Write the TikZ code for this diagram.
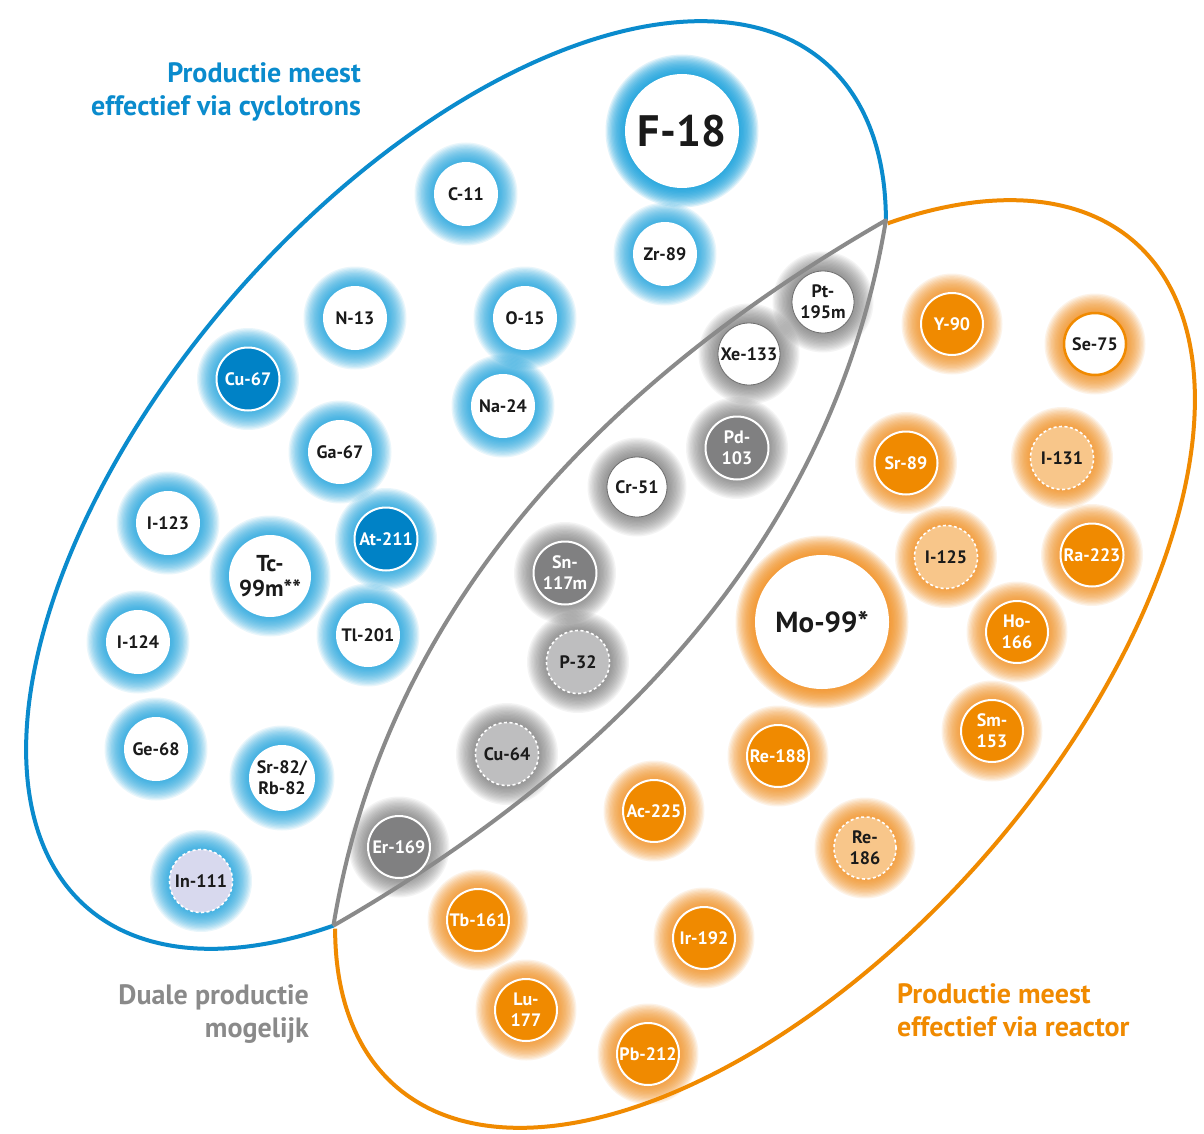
\documentclass[tikz,border=0pt]{standalone}
\usepackage{fontspec}
\setmainfont{PT Sans}
\usetikzlibrary{calc}
\definecolor{cycblue}{HTML}{0A8BCD}
\definecolor{glowblue}{HTML}{17A2DE}
\definecolor{fillblue}{HTML}{0082C6}
\definecolor{reacor}{HTML}{F08A00}
\definecolor{gloworange}{HTML}{F39020}
\definecolor{lightor}{HTML}{F8C68A}
\definecolor{dualgray}{HTML}{8A8A8A}
\definecolor{fillgray}{HTML}{808081}
\definecolor{lightgraytwo}{HTML}{BEBEBF}
\definecolor{glowgray}{HTML}{666666}
\definecolor{lavender}{HTML}{D8D9EE}
\definecolor{txt}{HTML}{1A1A1A}
\pgfdeclarelayer{bg}
\pgfdeclarelayer{glow}
\pgfsetlayers{bg,glow,main}
\tikzset{
  iso/.style={circle, inner sep=0pt, align=center, font=\bfseries\fontsize{18}{21}\selectfont, text=txt},
  wb/.style={iso, fill=white},
  fb/.style={iso, fill=fillblue, draw=white, line width=2pt, text=white},
  dl/.style={iso, fill=lavender, draw=white, line width=1.6pt, dash pattern=on 3pt off 2.5pt},
  wg/.style={iso, fill=white, draw=dualgray!80!black, line width=0.8pt},
  fg/.style={iso, fill=fillgray, draw=white, line width=2pt, text=white},
  dg/.style={iso, fill=lightgraytwo, draw=white, line width=1.6pt, dash pattern=on 3pt off 2.5pt},
  fo/.style={iso, fill=reacor, draw=white, line width=2pt, text=white},
  do/.style={iso, fill=lightor, draw=white, line width=1.6pt, dash pattern=on 3pt off 2.5pt},
  wo/.style={iso, fill=white, draw=reacor, line width=2.5pt},
  gb/.style={glowblue, opacity=0.095},
  go/.style={gloworange, opacity=0.10},
  gg/.style={glowgray, opacity=0.065},
  outline/.style={line width=4pt, line join=round},
  title/.style={font=\bfseries\fontsize{28}{33}\selectfont, inner sep=0pt},
}
\newcommand\isotope[7]{%
  \begin{pgfonlayer}{glow}
    \foreach \k in {1,...,15}{\fill[#6] (#2,#3) circle ({#4+1.3*\k});}
  \end{pgfonlayer}
  \node[#5, minimum size=2*#4pt] (#1) at (#2,#3) {#7};
}
\begin{document}
\begin{tikzpicture}[x=1pt, y=-1pt]
\useasboundingbox (0,0) rectangle (1204,1134);
\begin{pgfonlayer}{bg}
  \fill[white] (0,0) rectangle (1204,1134);
\end{pgfonlayer}

% intersection points of the three outlines
\coordinate (P1) at ({456+561*cos(-30.7)*0.6587-292*sin(-30.7)*0.7524},{485-561*cos(-30.7)*0.7524-292*sin(-30.7)*0.6587});
\coordinate (P2) at ({456+561*cos(222.7)*0.6587-292*sin(222.7)*0.7524},{485-561*cos(222.7)*0.7524-292*sin(222.7)*0.6587});
\coordinate (Q) at (404,497);
\coordinate (Qb) at ($(P1)+(P2)-(Q)$);

% cyclotron outline
\draw[outline, cycblue] plot[domain=-30.7:222.7, samples=160, smooth]
  ({456+561*cos(\x)*0.6587-292*sin(\x)*0.7524},{485-561*cos(\x)*0.7524-292*sin(\x)*0.6587});
% reactor outline
\draw[outline, reacor] plot[domain=-210.7:42.7, samples=160, smooth]
  ({765+561*cos(\x)*0.6587-292*sin(\x)*0.7524},{664-561*cos(\x)*0.7524-292*sin(\x)*0.6587});
% dual outline
\draw[outline, dualgray] (P2) .. controls ($(P2)!2/3!(Q)$) and ($(P1)!2/3!(Q)$) .. (P1)
  .. controls ($(P1)!2/3!(Qb)$) and ($(P2)!2/3!(Qb)$) .. (P2);

% cyclotron isotopes
\isotope{F18}{682}{131}{57}{wb, font=\bfseries\fontsize{44}{48}\selectfont}{glowblue,opacity=0.13}{F-18}
\isotope{C11}{466}{194}{32}{wb}{gb}{C-11}
\isotope{Zr89}{665}{254}{32}{wb}{gb}{Zr-89}
\isotope{N13}{355}{318}{32}{wb}{gb}{N-13}
\isotope{O15}{525}{318}{32}{wb}{gb}{O-15}
\isotope{Cu67}{248}{379}{31.5}{fb}{gb}{Cu-67}
\isotope{Na24}{503}{406}{32}{wb}{gb}{Na-24}
\isotope{Ga67}{340}{452}{32}{wb}{gb}{Ga-67}
\isotope{I123}{168}{523}{32}{wb}{gb}{I-123}
\isotope{Tc99m}{270}{576}{41}{wb, font=\bfseries\fontsize{23}{25}\selectfont}{gb}{Tc-\\99m**}
\isotope{At211}{386}{539}{31.5}{fb}{gb}{At-211}
\isotope{I124}{138}{642}{32}{wb}{gb}{I-124}
\isotope{Tl201}{368}{635}{32}{wb}{gb}{Tl-201}
\isotope{Ge68}{156}{749}{32}{wb}{gb}{Ge-68}
\isotope{Sr82}{282}{778}{33}{wb}{gb}{Sr-82/\\Rb-82}
\isotope{In111}{201}{881}{31.5}{dl}{gb}{In-111}

% dual isotopes
\isotope{Pt195m}{823}{302}{31}{wg}{gg}{Pt-\\195m}
\isotope{Xe133}{749}{354}{31}{wg}{gg}{Xe-133}
\isotope{Pd103}{737}{448}{31.5}{fg}{gg}{Pd-\\103}
\isotope{Cr51}{637}{487}{30}{wg}{gg}{Cr-51}
\isotope{Sn117m}{565}{573}{31.5}{fg}{gg}{Sn-\\117m}
\isotope{P32}{578}{662}{31.5}{dg}{gg}{P-32}
\isotope{Cu64}{507}{754}{31.5}{dg}{gg}{Cu-64}
\isotope{Er169}{399}{847}{31}{fg}{gg}{Er-169}

% reactor isotopes
\isotope{Y90}{952}{324}{31}{fo}{go}{Y-90}
\isotope{Se75}{1095}{344}{31}{wo}{go}{Se-75}
\isotope{Sr89}{906}{463}{31.5}{fo}{go}{Sr-89}
\isotope{I131}{1062}{458}{31.5}{do}{go}{I-131}
\isotope{I125}{946}{557}{31.5}{do}{go}{I-125}
\isotope{Ra223}{1092}{555}{31.5}{fo}{go}{Ra-223}
\isotope{Mo99}{822}{622}{67}{wb, font=\bfseries\fontsize{29}{32}\selectfont}{gloworange,opacity=0.12}{Mo-99*}
\isotope{Ho166}{1017}{632}{31}{fo}{go}{Ho-\\166}
\isotope{Sm153}{992}{731}{31}{fo}{go}{Sm-\\153}
\isotope{Re188}{778}{756}{31}{fo}{go}{Re-188}
\isotope{Ac225}{654}{811}{31}{fo}{go}{Ac-225}
\isotope{Re186}{865}{848}{31}{do}{go}{Re-\\186}
\isotope{Tb161}{478}{920}{31}{fo}{go}{Tb-161}
\isotope{Ir192}{704}{938}{31}{fo}{go}{Ir-192}
\isotope{Lu177}{526}{1010}{31}{fo}{go}{Lu-\\177}
\isotope{Pb212}{648}{1054}{31}{fo}{go}{Pb-212}

% titles
\node[title, text=cycblue, align=right, anchor=east] (tcyc) at (361,92) {Productie meest\\effectief via cyclotrons};
\node[title, text=dualgray, align=right, anchor=east] (tdual) at (309,1014) {Duale productie\\mogelijk};
\node[title, text=reacor, align=left, anchor=west] (treac) at (897,1010) {Productie meest\\effectief via reactor};
\end{tikzpicture}
\end{document}
